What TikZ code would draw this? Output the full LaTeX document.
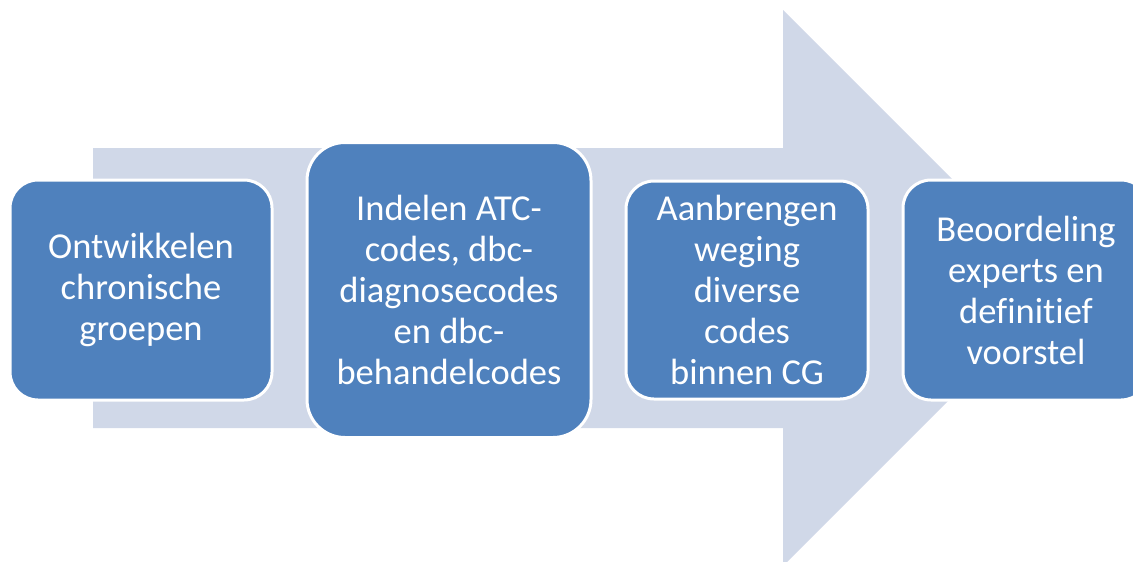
\documentclass[tikz,border=0pt]{standalone}
\usepackage{fontspec}
\setmainfont[Ligatures={NoCommon}]{Carlito}
\usepackage{xcolor}
\usepackage{tikz}
\usetikzlibrary{positioning}
\definecolor{stepblue}{HTML}{4F81BD}
\definecolor{arrowgrey}{HTML}{D0D8E8}

\begin{document}
\begin{tikzpicture}
		[x=1pt,y=-1pt,node distance=32pt,
		every node/.style={fill=stepblue,draw=white,line width=3pt,text=white,
			align=center,inner sep=0pt,rounded corners=28pt,
			font=\fontsize{36.5}{41}\selectfont},
		bigarrow/.style={fill=arrowgrey,draw=none}]
		\useasboundingbox (0,0) rectangle (1133,562);
		\fill[bigarrow] (93,148) -- (783,148) -- (783,10) -- (1061,288)
			-- (783,566) -- (783,428) -- (93,428) -- cycle;
		\node (ontw) [minimum width=262pt,minimum height=220pt] at (141,290)
			{Ontwikkelen\\chronische\\groepen};
		\node (indel) [right=of ontw,minimum width=284pt,minimum height=295pt,rounded corners=38pt]
			{Indelen ATC-\\codes, dbc-\\diagnosecodes\\en dbc-\\behandelcodes};
		\node (weging) [right=of indel,minimum width=242pt,minimum height=218pt]
			{Aanbrengen\\weging\\diverse\\codes\\binnen CG};
		\node (beoord) [right=of weging,minimum width=246pt,minimum height=220pt]
			{Beoordeling\\experts en\\definitief\\voorstel};
\end{tikzpicture}
\end{document}
